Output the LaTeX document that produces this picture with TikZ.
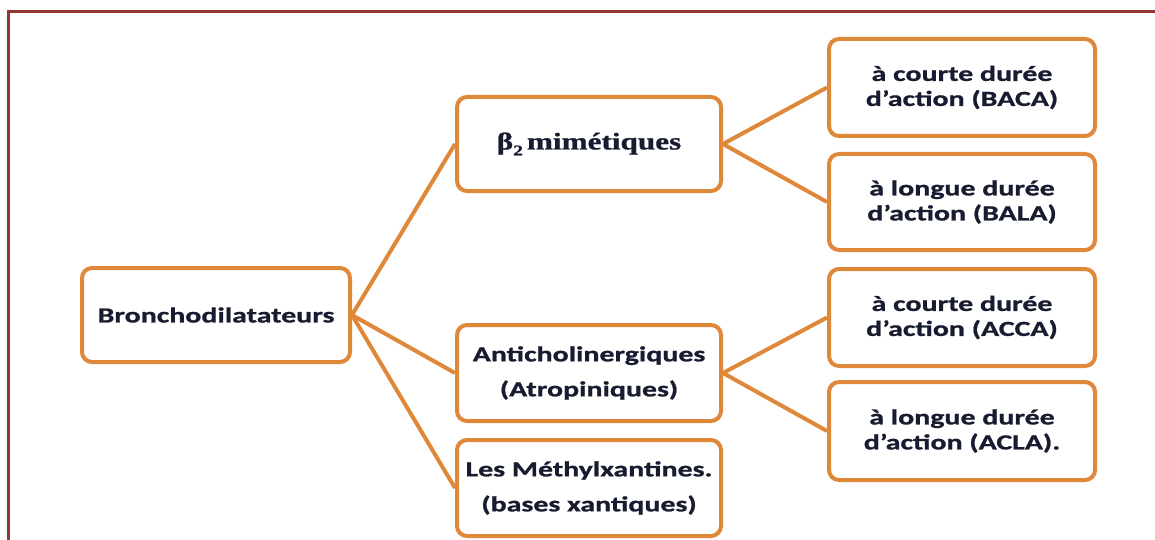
\documentclass[tikz,border=0pt]{standalone}
\usepackage{fontspec}
\newfontfamily\cbfont[FakeStretch=1.39,FakeBold=1]{Carlito}
\newfontfamily\serfont[FakeStretch=1.3,FakeBold=1]{Liberation Serif}
\definecolor{boxor}{RGB}{224,136,58}
\definecolor{frame}{RGB}{148,54,52}
\definecolor{txt}{RGB}{24,28,48}
\begin{document}
\begin{tikzpicture}[x=1pt,y=-1pt,
  bx/.style={draw=boxor,line width=4pt,rounded corners=10pt,fill=white,
    inner sep=0pt,align=center,text=txt,font=\cbfont\bfseries\fontsize{21.5}{25}\selectfont},
  con/.style={draw=boxor,line width=4pt}]
\useasboundingbox (0,0) rectangle (1155,540);
\draw[frame,line width=3pt] (8,540) -- (8,12) -- (1155,12);
\node[bx,minimum width=268pt,minimum height=94pt] (root) at (216,315) {Bronchodilatateurs};
\node[bx,minimum width=264pt,minimum height=94pt,font=\serfont\bfseries\fontsize{24}{25}\selectfont] (b2) at (589,144) {β\raisebox{-0.25em}{\fontsize{15}{15}\selectfont 2}\,mimétiques};
\node[bx,minimum width=264pt,minimum height=96pt] (ac) at (589,373) {Anticholinergiques\\[10pt](Atropiniques)};
\node[bx,minimum width=264pt,minimum height=96pt] (me) at (589,488) {Les Méthylxantines.\\[10pt](bases xantiques)};
\node[bx,minimum width=266pt,minimum height=97pt] (baca) at (962,87.5) {à courte durée\\d’action (BACA)};
\node[bx,minimum width=266pt,minimum height=96pt] (bala) at (962,202) {à longue durée\\d’action (BALA)};
\node[bx,minimum width=266pt,minimum height=97pt] (acca) at (962,317.5) {à courte durée\\d’action (ACCA)};
\node[bx,minimum width=266pt,minimum height=98pt] (acla) at (962,431) {à longue durée\\d’action (ACLA).};
\draw[con] (root.east) -- (b2.west);
\draw[con] (root.east) -- (ac.west);
\draw[con] (root.east) -- (me.west);
\draw[con] (b2.east) -- (baca.west);
\draw[con] (b2.east) -- (bala.west);
\draw[con] (ac.east) -- (acca.west);
\draw[con] (ac.east) -- (acla.west);
\end{tikzpicture}
\end{document}
